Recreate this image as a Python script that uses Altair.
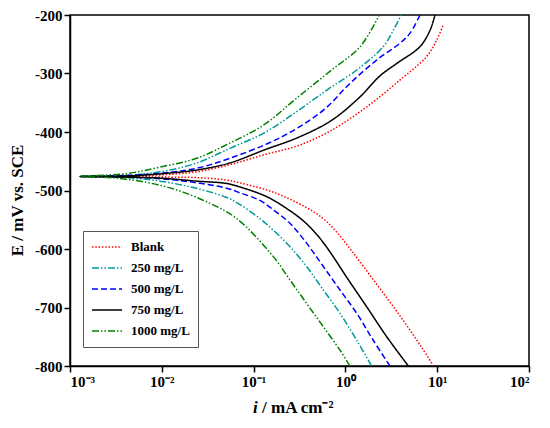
import altair as alt
import pandas as pd

# ---- data (i in mA cm^-2, E in mV vs. SCE), ordered along each sweep
series_names = ["Blank", "250 mg/L", "500 mg/L", "750 mg/L", "1000 mg/L"]

blank_i = [9.12, 6.76, 3.80, 2.09, 1.17, 0.794, 0.562, 0.355, 0.158, 0.0708, 0.0501, 0.024, 0.01, 0.00129,
           0.00447, 0.0105, 0.024, 0.055, 0.129, 0.309, 0.708, 1.71, 3.94, 7.67, 9.86, 11.7]
blank_E = [-800, -768, -711, -656, -603, -570, -547, -527, -502, -487, -482, -478, -477, -476,
           -475, -473, -468, -456, -439, -423, -397, -357, -311, -271, -243, -216]

c250_i = [1.93, 1.33, 0.873, 0.575, 0.378, 0.249, 0.164, 0.117, 0.0711, 0.0509, 0.0221, 0.00955, 0.00398, 0.00129,
          0.00447, 0.0105, 0.024, 0.055, 0.129, 0.295, 0.646, 1.33, 2.59, 3.33, 4.04]
c250_E = [-800, -756, -710, -670, -630, -596, -568, -548, -524, -512, -495, -484, -478, -476,
          -474, -467, -453, -428, -402, -365, -327, -294, -254, -226, -200]

c500_i = [3.06, 2.01, 1.33, 0.873, 0.575, 0.378, 0.249, 0.164, 0.117, 0.0711, 0.0509, 0.0221, 0.01, 0.00398, 0.00129,
          0.00447, 0.0105, 0.024, 0.055, 0.141, 0.295, 0.603, 1.12, 2.19, 3.94, 5.06, 6.5]
c500_E = [-800, -756, -710, -670, -630, -590, -556, -533, -517, -504, -496, -486, -480, -477, -476,
          -474, -470, -462, -445, -420, -394, -360, -317, -277, -248, -231, -200]

c750_i = [4.85, 2.82, 1.71, 1.05, 0.646, 0.486, 0.355, 0.251, 0.141, 0.0711, 0.0509, 0.024, 0.01, 0.00398, 0.00129,
          0.00447, 0.0105, 0.024, 0.055, 0.129, 0.309, 0.708, 1.44, 2.38, 3.61, 6.5, 8.36, 9.46]
c750_E = [-800, -750, -699, -650, -600, -575, -553, -535, -511, -494, -488, -484, -479, -477, -476,
          -475, -471, -465, -453, -431, -409, -380, -340, -304, -283, -254, -226, -200]

c1000_i = [1.12, 0.873, 0.575, 0.378, 0.249, 0.164, 0.0655, 0.0335, 0.0145, 0.0063, 0.00275, 0.00129,
           0.00417, 0.00955, 0.024, 0.055, 0.129, 0.295, 0.708, 1.45, 2.34]
c1000_E = [-800, -773, -733, -693, -653, -613, -548, -522, -499, -485, -478, -476,
           -471, -460, -445, -419, -388, -342, -294, -254, -200]

x_tick_values = [0.001, 0.01, 0.1, 1, 10, 100]
x_tick_labels = ["10⁻³", "10⁻²", "10⁻¹", "10⁰", "10¹", "10²"]
y_tick_values = [-800, -700, -600, -500, -400, -300, -200]

colors = ["#FF0000", "#009999", "#0000FF", "#000000", "#008000"]
dashes = [[1.5, 1.8], [7, 2, 1.5, 2, 1.5, 2], [6, 3], [1, 0], [7, 2, 1.5, 2, 1.5, 2]]

rows = []
for name, xs, ys in zip(series_names,
                        [blank_i, c250_i, c500_i, c750_i, c1000_i],
                        [blank_E, c250_E, c500_E, c750_E, c1000_E]):
    for k, (a, b) in enumerate(zip(xs, ys)):
        rows.append({"series": name, "i": a, "E": b, "idx": k})
df = pd.DataFrame(rows)

FONT = "Liberation Serif"
label_expr = "[" + ",".join("'%s'" % s for s in x_tick_labels) + "][round(log(datum.value)/LN10)+3]"

lines = alt.Chart(df).mark_line(strokeWidth=1.5, interpolate="catmull-rom", clip=True).encode(
    x=alt.X("i:Q", scale=alt.Scale(type="log", domain=[0.001, 100], nice=False),
            axis=alt.Axis(values=x_tick_values, labelExpr=label_expr, title=None)),
    y=alt.Y("E:Q", scale=alt.Scale(domain=[-800, -200], nice=False),
            axis=alt.Axis(values=y_tick_values, labelExpr="toString(datum.value)",
                          title="E / mV vs. SCE", titleX=-44, titleY=185, titleAngle=270,
                          titleBaseline="bottom", titleFontSize=17)),
    color=alt.Color("series:N", scale=alt.Scale(domain=series_names, range=colors),
                    sort=series_names, title=None),
    strokeDash=alt.StrokeDash("series:N", scale=alt.Scale(domain=series_names, range=dashes),
                              sort=series_names, title=None),
    order="idx:Q",
)

title_i = alt.Chart(alt.InlineData(values=[{"t": 1}])).mark_text(
    font=FONT, fontSize=17, fontWeight="bold", fontStyle="italic", align="left", baseline="alphabetic"
).encode(x=alt.value(183), y=alt.value(398), text=alt.value("i"))

title_rest = alt.Chart(alt.InlineData(values=[{"t": 1}])).mark_text(
    font=FONT, fontSize=17, fontWeight="bold", align="left", baseline="alphabetic"
).encode(x=alt.value(192), y=alt.value(398), text=alt.value("/ mA cm⁻²"))

chart = alt.layer(lines, title_i, title_rest).properties(
    width=459, height=351,
    autosize=alt.AutoSizeParams(type="none"),
    padding={"left": 62, "top": 7, "right": 13, "bottom": 54},
).configure_view(
    stroke="#000000", strokeWidth=1.5
).configure_axis(
    labelFont=FONT, labelFontWeight="bold", labelFontSize=15, labelColor="#000000",
    titleFont=FONT, titleFontWeight="bold", titleColor="#000000",
    domainColor="#000000", domainWidth=1.5, tickColor="#000000", tickWidth=1.5, tickSize=6,
    labelPadding=2, grid=False,
).configure_legend(
    orient="none", legendX=13, legendY=216, padding=8,
    strokeColor="#555555", fillColor="#FFFFFF",
    symbolType="stroke", symbolSize=900, symbolStrokeWidth=1.5,
    labelFont=FONT, labelFontWeight="bold", labelFontSize=13, labelColor="#000000",
    labelOffset=8, clipHeight=16, rowPadding=5,
)

chart.save("out.html", embed_options={"renderer": "svg", "actions": False})
